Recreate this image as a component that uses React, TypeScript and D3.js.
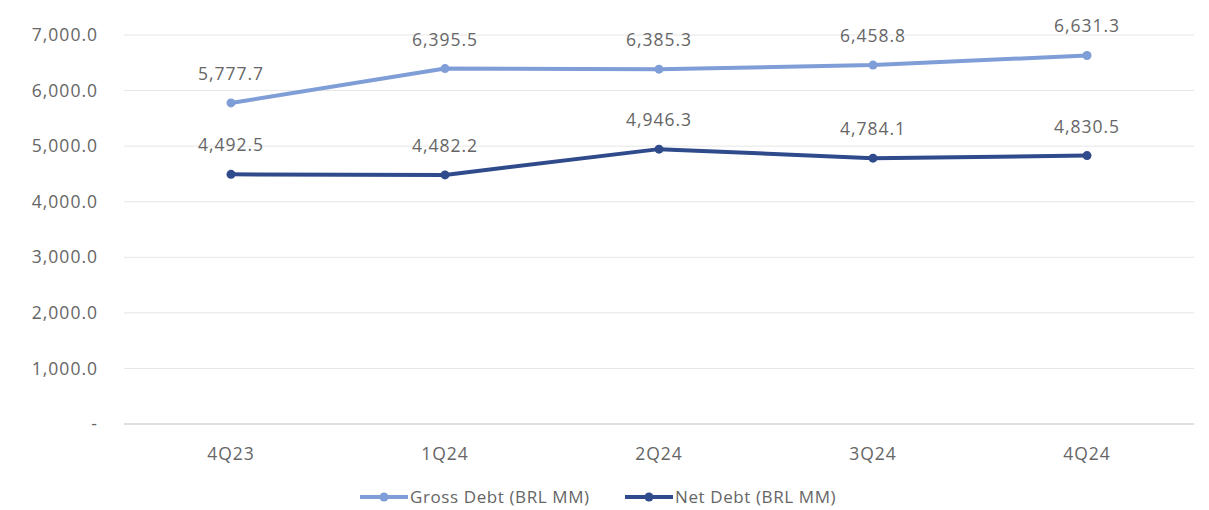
import React from "react";
import * as d3 from "d3";

// Quarterly debt series (BRL MM)
const quarters = ["4Q23", "1Q24", "2Q24", "3Q24", "4Q24"];
const grossDebt = [5777.7, 6395.5, 6385.3, 6458.8, 6631.3];
const netDebt = [4492.5, 4482.2, 4946.3, 4784.1, 4830.5];
const yTicks = [0, 1000, 2000, 3000, 4000, 5000, 6000, 7000];

const W = 1209;
const H = 510;
const plot = { left: 124, right: 1194, top: 35, bottom: 424 };

const GROSS = "#7F9DD6";
const NET = "#2F4B8C";
const TEXT = "#666666";
const FONT = "'Open Sans', 'DejaVu Sans', sans-serif";
const FS = 17.5;
const LS = 1;

const fmt = d3.format(",.1f");

export default function App() {
  const x = d3
    .scaleBand<string>()
    .domain(quarters)
    .range([plot.left, plot.right])
    .paddingInner(0)
    .paddingOuter(0);
  const y = d3.scaleLinear().domain([0, 7000]).range([plot.bottom, plot.top]);
  const cx = (q: string) => (x(q) ?? 0) + x.bandwidth() / 2;

  const line = d3
    .line<number>()
    .x((_, i) => cx(quarters[i]))
    .y((v) => y(v));

  const series = [
    { name: "Gross Debt (BRL MM)", values: grossDebt, color: GROSS },
    { name: "Net Debt (BRL MM)", values: netDebt, color: NET },
  ];

  const legendItems = [
    { x0: 360, ...series[0] },
    { x0: 625, ...series[1] },
  ];

  return (
    <svg
      width={W}
      height={H}
      style={{ position: "absolute", left: 0, top: 0, background: "#fff" }}
      fontFamily={FONT}
    >
      {/* gridlines */}
      {yTicks.map((t) => (
        <line
          key={t}
          x1={plot.left}
          x2={plot.right}
          y1={y(t)}
          y2={y(t)}
          stroke={t === 0 ? "#D4D4D4" : "#E6E6E6"}
          strokeWidth={t === 0 ? 1.5 : 1}
        />
      ))}
      {/* y tick labels */}
      {yTicks.map((t) => (
        <text
          key={"yl" + t}
          x={98}
          y={y(t)}
          dy="0.35em"
          textAnchor="end"
          fontSize={FS}
          fill={TEXT}
          letterSpacing={LS}
        >
          {t === 0 ? "-" : fmt(t)}
        </text>
      ))}
      {/* x tick labels */}
      {quarters.map((q) => (
        <text
          key={"xl" + q}
          x={cx(q)}
          y={454}
          dy="0.35em"
          textAnchor="middle"
          fontSize={FS}
          fill={TEXT}
          letterSpacing={LS}
        >
          {q}
        </text>
      ))}
      {/* lines, markers and value labels */}
      {series.map((s) => (
        <g key={s.name}>
          <path
            d={line(s.values) ?? ""}
            fill="none"
            stroke={s.color}
            strokeWidth={4}
            strokeLinejoin="round"
            strokeLinecap="round"
          />
          {s.values.map((v, i) => (
            <circle key={i} cx={cx(quarters[i])} cy={y(v)} r={4.5} fill={s.color} />
          ))}
          {s.values.map((v, i) => (
            <text
              key={"v" + i}
              x={cx(quarters[i])}
              y={y(v) - 23}
              textAnchor="middle"
              fontSize={FS}
              fill={TEXT}
              letterSpacing={LS}
            >
              {fmt(v)}
            </text>
          ))}
        </g>
      ))}
      {/* legend */}
      {legendItems.map((l) => (
        <g key={"lg" + l.name}>
          <line x1={l.x0} x2={l.x0 + 48} y1={497} y2={497} stroke={l.color} strokeWidth={4} />
          <circle cx={l.x0 + 24} cy={497} r={4.5} fill={l.color} />
          <text
            x={l.x0 + 50}
            y={497}
            dy="0.35em"
            fontSize={17}
            fill={TEXT}
            letterSpacing={0.6}
          >
            {l.name}
          </text>
        </g>
      ))}
    </svg>
  );
}
